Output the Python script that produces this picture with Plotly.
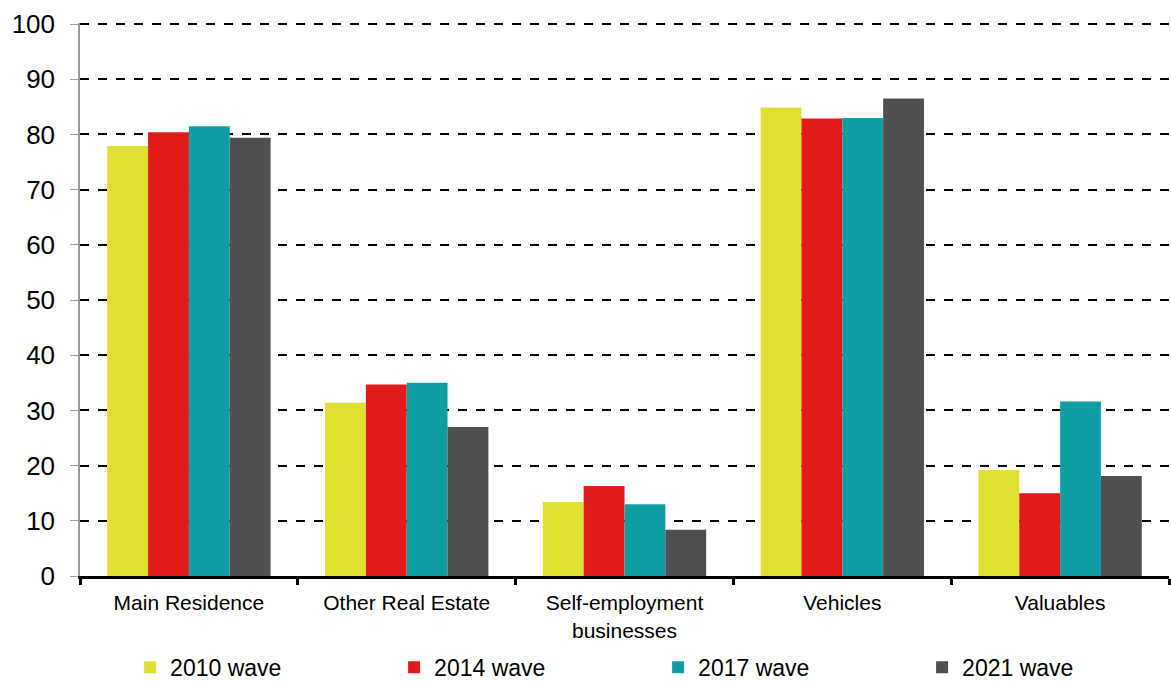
import plotly.graph_objects as go

categories = ["Main Residence", "Other Real Estate", "Self-employment<br>businesses",
              "Vehicles", "Valuables"]
waves = ["2010 wave", "2014 wave", "2017 wave", "2021 wave"]
wave_2010 = [77.9, 31.4, 13.4, 84.9, 19.2]
wave_2014 = [80.4, 34.7, 16.3, 82.9, 15.0]
wave_2017 = [81.5, 35.0, 13.0, 83.0, 31.6]
wave_2021 = [79.4, 27.0, 8.4, 86.5, 18.1]
colors = ["#e0e032", "#e11b1b", "#109ea3", "#505050"]
y_ticks = [0, 10, 20, 30, 40, 50, 60, 70, 80, 90, 100]

fig = go.Figure()
for name, vals, col in zip(waves, [wave_2010, wave_2014, wave_2017, wave_2021], colors):
    fig.add_trace(go.Bar(x=categories, y=vals, name=name, marker_color=col,
                         marker_line_width=0))

fig.update_layout(
    width=1171, height=681,
    margin=dict(l=80, r=2, t=23, b=105, autoexpand=False),
    plot_bgcolor="white", paper_bgcolor="white",
    font=dict(family="Arial, Liberation Sans, sans-serif", color="black"),
    barmode="group", bargap=0.25, bargroupgap=0,
    legend=dict(orientation="h", x=0.046, xanchor="left", y=-0.126, yanchor="top",
                font=dict(size=23), entrywidth=219, entrywidthmode="pixels",
                itemwidth=30),
)
fig.update_yaxes(
    range=[0, 100.2], tickvals=y_ticks, tickfont=dict(size=26), automargin=False,
    ticklabelstandoff=10,
    showline=True, linecolor="#999999", linewidth=1.5,
    ticks="outside", ticklen=8, tickcolor="#999999",
    showgrid=True, gridcolor="black", griddash="dash", gridwidth=1.5,
    zeroline=False,
)
fig.update_xaxes(
    tickfont=dict(size=21), automargin=False, ticklabelstandoff=6,
    showline=True, linecolor="black", linewidth=3,
    ticks="outside", tickson="boundaries", ticklen=6, tickwidth=3, tickcolor="black",
)

fig.write_html("out.html", config={"displayModeBar": False},
               post_script="document.body.style.margin = '0';")
